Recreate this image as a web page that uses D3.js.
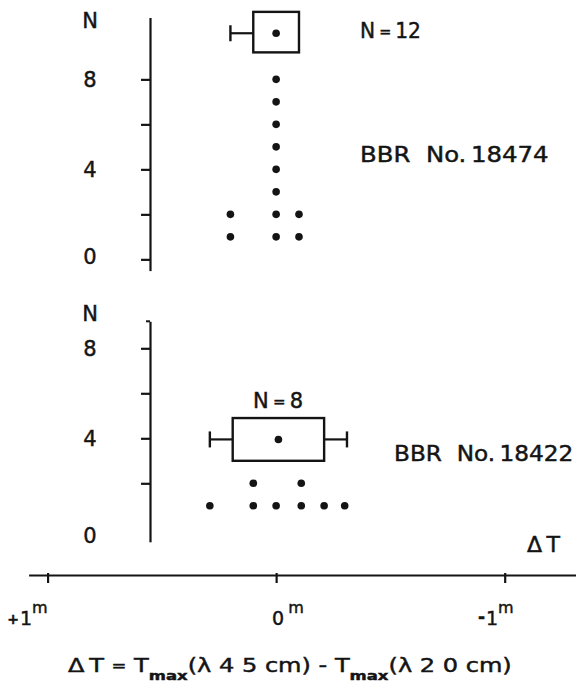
<!DOCTYPE html>
<html>
<head>
<meta charset="utf-8">
<script src="https://cdn.jsdelivr.net/npm/d3@7"></script>
<style>
  html, body { margin: 0; padding: 0; background: #fff; }
  svg { display: block; }
  text { font-family: "DejaVu Sans", sans-serif; fill: #141414; stroke: #141414; stroke-width: 0.45px; }
</style>
</head>
<body>
<script>
// ---------------- data ----------------
// ΔT values (minutes of time) of each measurement, stacked as a dot plot
const topValues = [0.2, 0.2, 0, 0, 0, 0, 0, 0, 0, 0, -0.1, -0.1];   // BBR No.18474
const botValues = [0.29, 0.1, 0.1, 0, -0.11, -0.11, -0.21, -0.30];  // BBR No.18422

// box = mean ± spread, whiskers = extreme values, drawn at an N level
const topMean = 0.0,   topBox = [0.10, -0.10], topWhisker = [0.20, null],  topBoxN = [9.2, 11.0], topMeanN = 10.05;
const botMean = -0.01, botBox = [0.19, -0.21], botWhisker = [0.29, -0.31], botBoxN = [3.0, 4.9],  botMeanN = 3.95;

const topLabel = ["BBR\u00A0 No.", "18474"], topCount = ["N", "=", "12"];
const botLabel = ["BBR\u00A0 No.", "18422"], botCount = ["N", "=", "8"];

const yTickValues = [0, 2, 4, 6, 8];
const yTickLabels = ["0", "", "4", "", "8"];
const xTickValues = [1, 0, -1];
const xTickLabels = ["+1", "0", "-1"];

// ---------------- layout ----------------
const W = 576, H = 689;
const svg = d3.select("body").append("svg").attr("width", W).attr("height", H);

const x = d3.scaleLinear().domain([1.083, -1.312]).range([28.6, 576]);
const yTop = d3.scaleLinear().domain([-0.5, 10.75]).range([270.6, 17.5]);
const yBot = d3.scaleLinear().domain([-0.6, 9.2]).range([541.8, 321.3]);
const axisX = 150;
const ink = "#141414";

// place a text at (x0, y0) and stretch it horizontally to width w
function stretch(sel, x0, y0, w, anchor) {
  sel.attr("x", 0).attr("y", 0).attr("text-anchor", anchor || "start");
  const L = sel.node().getComputedTextLength();
  const k = w / L;
  sel.attr("transform", `translate(${x0},${y0}) scale(${k},1)`);
}

function stackIndex(vals) {
  const seen = new Map();
  return vals.map(v => { const k = seen.get(v) || 0; seen.set(v, k + 1); return k + 1; });
}

function panel(y, vals, mean, box, whisker, boxN, meanN, tickVals, opts) {
  const g = svg.append("g");
  // y axis
  const ax = g.append("g").attr("transform", `translate(${axisX},0)`)
    .call(d3.axisLeft(y).tickValues(tickVals).tickSize(9).tickSizeOuter(0)
      .tickFormat(d => yTickLabels[yTickValues.indexOf(d)]));
  ax.select(".domain").attr("stroke", ink).attr("stroke-width", 2.2);
  ax.selectAll(".tick line").attr("stroke", ink).attr("stroke-width", 2.2);
  ax.selectAll(".tick text").attr("x", -60).attr("text-anchor", "middle")
    .attr("font-size", 21).attr("dy", d => (d === 0 ? opts.zeroDy : 0.36 * 21))
    .style("font-family", '"DejaVu Sans", sans-serif').attr("fill", ink);
  if (opts.cap) {
    g.append("line").attr("x1", axisX - 4).attr("x2", axisX)
      .attr("y1", y.range()[1]).attr("y2", y.range()[1])
      .attr("stroke", ink).attr("stroke-width", 2);
  }
  // "N" axis title
  g.append("text").attr("x", 90).attr("y", opts.nLabelY + 7.6)
    .attr("text-anchor", "middle").attr("font-size", 21).text("N");

  // dots
  const idx = stackIndex(vals);
  g.selectAll("circle.pt").data(vals).join("circle").attr("class", "pt")
    .attr("cx", d => x(d)).attr("cy", (d, i) => y(idx[i])).attr("r", 3.8).attr("fill", ink);

  // whiskers
  const yw = y(meanN);
  [[whisker[0], box[0]], [whisker[1], box[1]]].forEach(([w, b]) => {
    if (w === null || w === b) return;
    g.append("line").attr("x1", x(w)).attr("x2", x(b)).attr("y1", yw).attr("y2", yw)
      .attr("stroke", ink).attr("stroke-width", 2.2);
    g.append("line").attr("x1", x(w)).attr("x2", x(w)).attr("y1", yw - 8).attr("y2", yw + 8)
      .attr("stroke", ink).attr("stroke-width", 2.4);
  });
  // box
  g.append("rect").attr("x", x(box[0])).attr("y", y(boxN[1]))
    .attr("width", x(box[1]) - x(box[0])).attr("height", y(boxN[0]) - y(boxN[1]))
    .attr("fill", "none").attr("stroke", ink).attr("stroke-width", 2.4);
  g.append("circle").attr("cx", x(mean)).attr("cy", y(meanN)).attr("r", 3.8).attr("fill", ink);

  // count label: N = k
  const c = g.append("text").attr("font-size", 21);
  c.append("tspan").text(opts.count[0] + "\u2009");
  c.append("tspan").attr("font-size", 15).attr("dy", -1).text(opts.count[1]);
  c.append("tspan").attr("dy", 1).text("\u2009" + opts.count[2]);
  stretch(c, opts.countX, opts.countY + 7.6, opts.countW, opts.countAnchor);

  // panel name
  const n = g.append("text").attr("font-size", 21);
  n.append("tspan").text(opts.name[0]);
  n.append("tspan").attr("dx", 4).text(opts.name[1]);
  stretch(n, opts.nameX, opts.nameY + 7.6, opts.nameW, "start");
}

panel(yTop, topValues, topMean, topBox, topWhisker, topBoxN, topMeanN, [0, 2, 4, 6, 8],
  { zeroDy: 4.6, cap: false, nLabelY: 20, count: topCount, countX: 360, countY: 30.7, countW: 61, countAnchor: "start",
    name: topLabel, nameX: 360, nameY: 154, nameW: 184 });
panel(yBot, botValues, botMean, botBox, botWhisker, botBoxN, botMeanN, [2, 4, 6, 8],
  { zeroDy: 0, cap: true, nLabelY: 313, count: botCount, countX: 278, countY: 400.7, countW: 50, countAnchor: "middle",
    name: botLabel, nameX: 394, nameY: 453.3, nameW: 175 });

// bottom panel "0" label (no tick drawn at 0)
svg.append("text").attr("x", 90).attr("y", 535 + 7.6).attr("text-anchor", "middle")
  .attr("font-size", 21).text("0");

// ΔT label at the end of the scale
const dtl = svg.append("text").attr("font-size", 21).text("Δ\u2009T");
stretch(dtl, 527, 544 + 7.6, 33, "start");

// ---------------- x axis ----------------
const axisY = 575;
const xa = svg.append("g").attr("transform", `translate(0,${axisY})`)
  .call(d3.axisBottom(x).tickValues(xTickValues).tickSize(8).tickSizeOuter(0).tickFormat(""));
xa.select(".domain").attr("stroke", ink).attr("stroke-width", 2.2);
xa.selectAll(".tick line").attr("stroke", ink).attr("stroke-width", 2.2).attr("y1", -2);

const xDigitDx = [-21.6, 2, -12.7];
xTickValues.forEach((v, i) => {
  const lab = xTickLabels[i];
  const sign = lab.length > 1 ? lab[0] : "";
  const digit = lab[lab.length - 1];
  const dx = x(v) + xDigitDx[i];
  const base = 625;
  if (sign) {
    svg.append("text").attr("x", dx - 7).attr("y", base - (sign === "+" ? 1 : 2)).attr("text-anchor", "end")
      .attr("font-size", sign === "+" ? 14 : 17).attr("font-weight", "bold").text(sign);
  }
  svg.append("text").attr("x", dx).attr("y", base).attr("text-anchor", "middle")
    .attr("font-size", 19).text(digit);
  svg.append("text").attr("x", dx + (digit === "0" ? 10 : 6)).attr("y", 613).attr("font-size", 16).text("m");
});

// ---------------- formula title ----------------
const t = svg.append("text").attr("font-size", 19);
t.append("tspan").text("Δ\u2009T ");
t.append("tspan").attr("font-size", 14).attr("dy", -1).text("=");
t.append("tspan").attr("dy", 1).text(" T");
t.append("tspan").attr("font-size", 13).attr("font-weight", "bold").attr("dy", 8).text("max");
t.append("tspan").attr("dy", -8).text("(λ 4 5 cm) - T");
t.append("tspan").attr("font-size", 13).attr("font-weight", "bold").attr("dy", 8).text("max");
t.append("tspan").attr("dy", -8).text("(λ 2 0 cm)");
stretch(t, 68, 672, 444, "start");
</script>
</body>
</html>
